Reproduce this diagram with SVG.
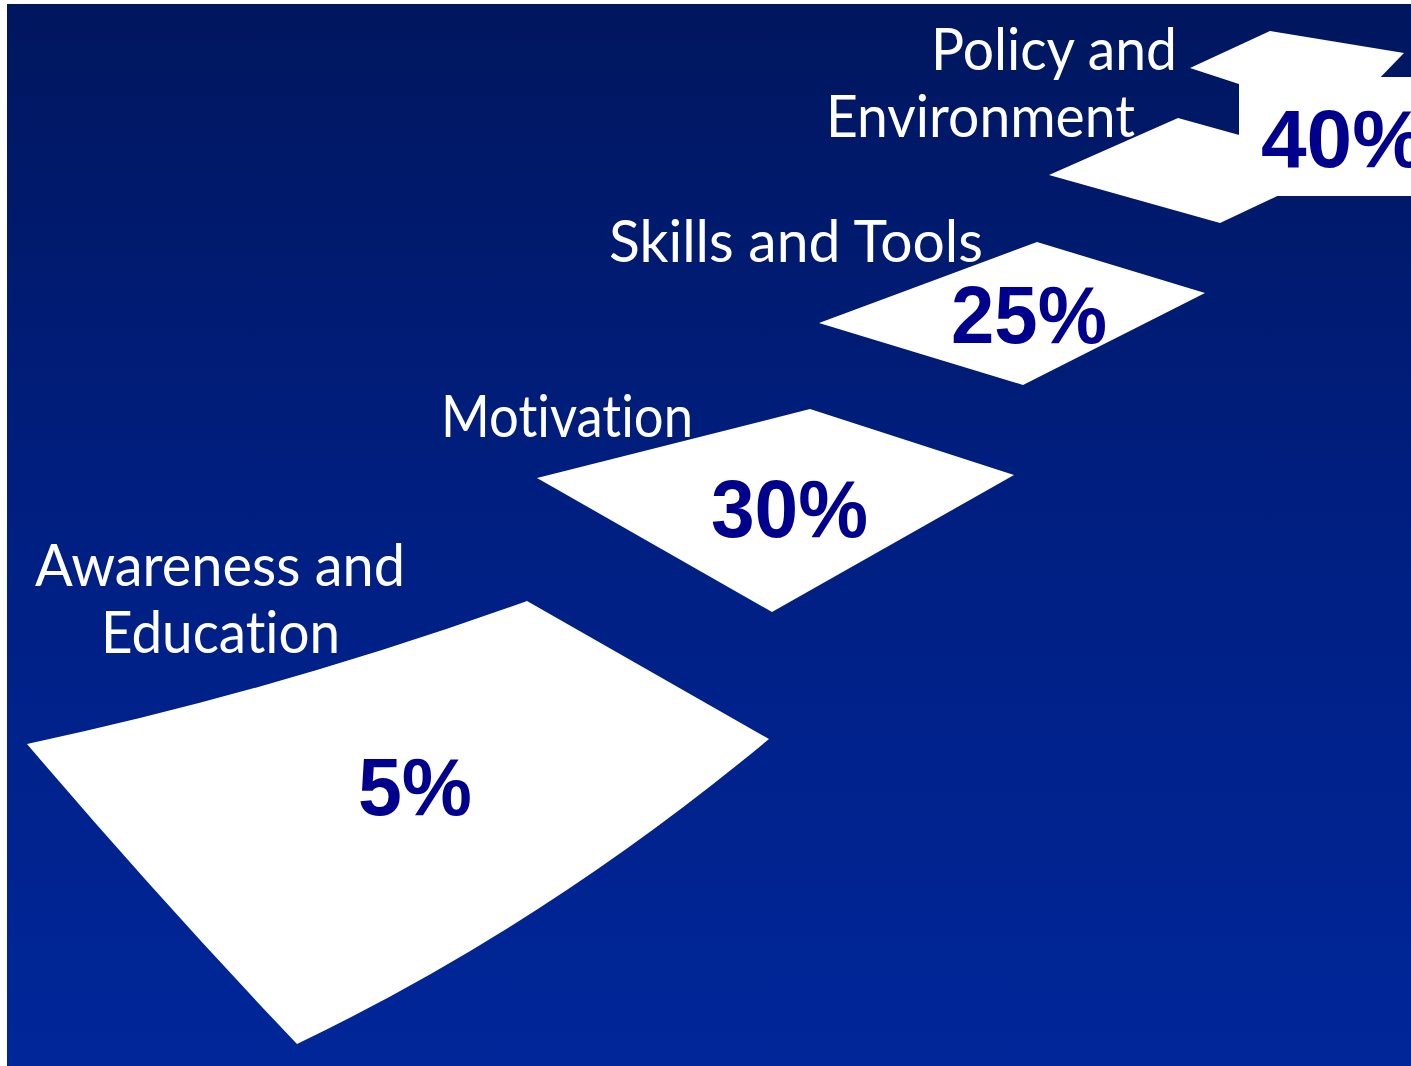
<svg xmlns="http://www.w3.org/2000/svg" width="1411" height="1066" viewBox="0 0 1411 1066">
  <defs>
    <linearGradient id="bg" x1="0" y1="0" x2="0" y2="1">
      <stop offset="0" stop-color="#00165e"/>
      <stop offset="0.5" stop-color="#001f82"/>
      <stop offset="1" stop-color="#002699"/>
    </linearGradient>
  </defs>
  <style>
    .step { fill: #ffffff; }
    .lbl { fill: #ffffff; font-family: Lato, "DejaVu Sans", Verdana, sans-serif; font-size: 58px; font-variant-ligatures: none; font-feature-settings: "liga" 0, "clig" 0; }
    .pct { fill: #00008c; font-family: "Liberation Sans", Arial, sans-serif; font-weight: bold; font-size: 82px; }
  </style>
  <rect x="0" y="0" width="1411" height="1066" fill="#ffffff"/>
  <rect x="7" y="4" width="1404" height="1062" fill="url(#bg)"/>

  <g id="awareness">
    <path class="step" d="M27,744 Q280,690 527,601 L769,739 Q545,925 297,1044 Q160,900 27,744 Z"/>
    <text class="lbl" x="35" y="586" textLength="370" lengthAdjust="spacingAndGlyphs">Awareness and</text>
    <text class="lbl" x="101" y="653" textLength="239" lengthAdjust="spacingAndGlyphs">Education</text>
    <text class="pct" x="358" y="815" textLength="114" lengthAdjust="spacingAndGlyphs">5%</text>
  </g>

  <g id="motivation">
    <polygon class="step" points="537,478 810,409 1014,475 772,612"/>
    <text class="lbl" x="441" y="437" textLength="252" lengthAdjust="spacingAndGlyphs">Motivation</text>
    <text class="pct" x="711" y="537" textLength="157" lengthAdjust="spacingAndGlyphs">30%</text>
  </g>

  <g id="skills">
    <polygon class="step" points="819,323 1037,242 1205,293 1023,385"/>
    <text class="lbl" x="609" y="262" textLength="374" lengthAdjust="spacingAndGlyphs">Skills and Tools</text>
    <text class="pct" x="951" y="343" textLength="156" lengthAdjust="spacingAndGlyphs">25%</text>
  </g>

  <g id="policy">
    <polygon class="step" points="1190,68 1270,31 1404,53 1372,86 1245,86"/>
    <polygon class="step" points="1049,175 1178,118 1250,138 1290,190 1220,223"/>
    <rect class="step" x="1239" y="77" width="172" height="119"/>
    <text class="lbl" x="931" y="70" textLength="246" lengthAdjust="spacingAndGlyphs">Policy and</text>
    <text class="lbl" x="826" y="137" textLength="309" lengthAdjust="spacingAndGlyphs">Environment</text>
    <text class="pct" x="1261" y="167">40%</text>
  </g>
</svg>
